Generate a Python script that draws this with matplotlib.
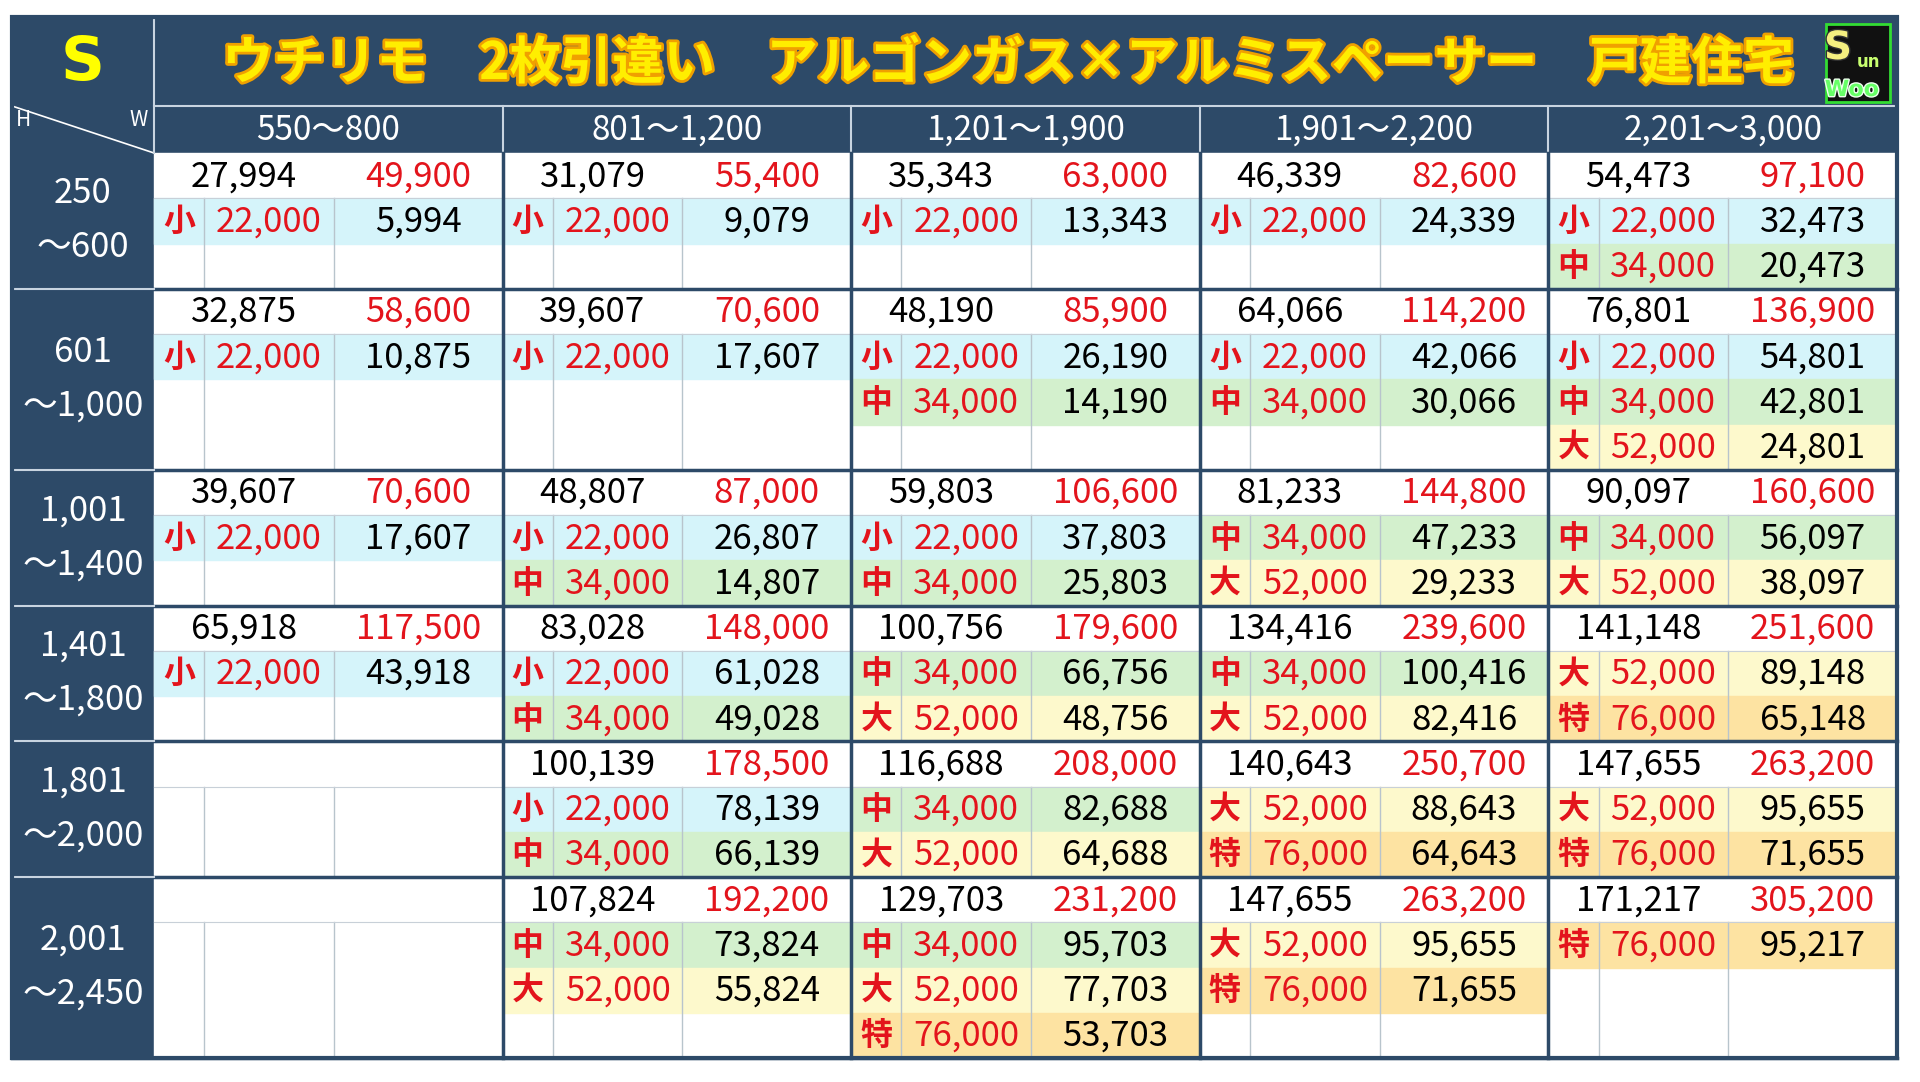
import matplotlib
matplotlib.use("Agg")
import matplotlib.pyplot as plt
import matplotlib.patheffects as pe
from matplotlib.patches import Rectangle

plt.rcParams['font.family'] = ['Noto Sans CJK JP', 'DejaVu Sans']

TITLE = "ウチリモ　2枚引違い　アルゴンガス×アルミスペーサー　戸建住宅"
W_LABELS = ["550～800", "801～1,200", "1,201～1,900", "1,901～2,200", "2,201～3,000"]
H_LABELS = [("250", "～600"), ("601", "～1,000"), ("1,001", "～1,400"),
            ("1,401", "～1,800"), ("1,801", "～2,000"), ("2,001", "～2,450")]
SUBROWS = [3, 4, 3, 3, 3, 4]
SIZE_PRICE = {"小": "22,000", "中": "34,000", "大": "52,000", "特": "76,000"}

# (base, price) per cell, None = empty
TOPS = [
    [("27,994", "49,900"), ("31,079", "55,400"), ("35,343", "63,000"), ("46,339", "82,600"), ("54,473", "97,100")],
    [("32,875", "58,600"), ("39,607", "70,600"), ("48,190", "85,900"), ("64,066", "114,200"), ("76,801", "136,900")],
    [("39,607", "70,600"), ("48,807", "87,000"), ("59,803", "106,600"), ("81,233", "144,800"), ("90,097", "160,600")],
    [("65,918", "117,500"), ("83,028", "148,000"), ("100,756", "179,600"), ("134,416", "239,600"), ("141,148", "251,600")],
    [None, ("100,139", "178,500"), ("116,688", "208,000"), ("140,643", "250,700"), ("147,655", "263,200")],
    [None, ("107,824", "192,200"), ("129,703", "231,200"), ("147,655", "263,200"), ("171,217", "305,200")],
]
# option rows: (size, remainder)
OPTS = [
    [[("小", "5,994")], [("小", "9,079")], [("小", "13,343")], [("小", "24,339")],
     [("小", "32,473"), ("中", "20,473")]],
    [[("小", "10,875")], [("小", "17,607")], [("小", "26,190"), ("中", "14,190")],
     [("小", "42,066"), ("中", "30,066")], [("小", "54,801"), ("中", "42,801"), ("大", "24,801")]],
    [[("小", "17,607")], [("小", "26,807"), ("中", "14,807")], [("小", "37,803"), ("中", "25,803")],
     [("中", "47,233"), ("大", "29,233")], [("中", "56,097"), ("大", "38,097")]],
    [[("小", "43,918")], [("小", "61,028"), ("中", "49,028")], [("中", "66,756"), ("大", "48,756")],
     [("中", "100,416"), ("大", "82,416")], [("大", "89,148"), ("特", "65,148")]],
    [[], [("小", "78,139"), ("中", "66,139")], [("中", "82,688"), ("大", "64,688")],
     [("大", "88,643"), ("特", "64,643")], [("大", "95,655"), ("特", "71,655")]],
    [[], [("中", "73,824"), ("大", "55,824")], [("中", "95,703"), ("大", "77,703"), ("特", "53,703")],
     [("大", "95,655"), ("特", "71,655")], [("特", "95,217")]],
]

NAVY = "#2d4a68"
RED = "#e3141c"
BG = {"小": "#d5f4fa", "中": "#d3f0cd", "大": "#fdf9cc", "特": "#fde3a2"}

X0, X1, Y0, Y1 = 12, 1897, 17, 1058
LAB_R, TITLE_B, HEAD_B = 154, 106, 153
CW = (X1 - LAB_R) / 5
SUB = [0, 0.144, 0.516, 1.0]
RH = (Y1 - HEAD_B) / sum(SUBROWS)
FS = 25

fig = plt.figure(figsize=(19.2, 10.82), dpi=100)
ax = fig.add_axes([0, 0, 1, 1])
ax.set_xlim(0, 1920); ax.set_ylim(1082, 0); ax.axis("off")

ax.add_patch(Rectangle((X0, Y0), X1 - X0, HEAD_B - Y0, color=NAVY))
ax.add_patch(Rectangle((X0, HEAD_B), LAB_R - X0, Y1 - HEAD_B, color=NAVY))
ax.add_patch(Rectangle((LAB_R, HEAD_B), X1 - LAB_R, Y1 - HEAD_B, color="white"))

ax.text((X0 + LAB_R) / 2, (Y0 + TITLE_B) / 2 + 2, "S", color="#ffff00", fontsize=44,
        fontweight="bold", ha="center", va="center", family="DejaVu Sans")
ax.text(1008, (Y0 + TITLE_B) / 2 + 2, TITLE, color="#ffee00", fontsize=37, fontweight="bold",
        ha="center", va="center",
        path_effects=[pe.withStroke(linewidth=4, foreground="#f0a000")])
# logo
ax.add_patch(Rectangle((1826, 24), 64, 78, facecolor="#111", edgecolor="#33dd33", lw=2))
ax.text(1838, 48, "S", color="#f5ef80", fontsize=28, fontweight="bold", ha="center", va="center",
        family="DejaVu Sans", path_effects=[pe.withStroke(linewidth=2, foreground="#333")])
ax.text(1868, 62, "un", color="#c8ff70", fontsize=12, fontweight="bold", ha="center", va="center",
        family="DejaVu Sans")
ax.text(1852, 90, "Woo", color="#66ff66", fontsize=16, fontweight="bold", ha="center", va="center",
        family="DejaVu Sans", path_effects=[pe.withStroke(linewidth=2, foreground="#eeffee")])

ax.plot([LAB_R, X1], [TITLE_B, TITLE_B], color="#c8d4e0", lw=1.5)
ax.plot([X0, LAB_R], [TITLE_B, HEAD_B], color="white", lw=1.2)
ax.plot([LAB_R, LAB_R], [Y0, HEAD_B], color="#c8d4e0", lw=1.5)
ax.text(X0 + 4, TITLE_B + 14, "H", color="white", fontsize=15, va="center")
ax.text(LAB_R - 6, TITLE_B + 14, "W", color="white", fontsize=15, va="center", ha="right")
for j, lab in enumerate(W_LABELS):
    ax.text(LAB_R + CW * (j + 0.5), (TITLE_B + HEAD_B) / 2 + 1, lab, color="white",
            fontsize=24, ha="center", va="center")
    if j:
        ax.plot([LAB_R + CW * j] * 2, [TITLE_B, HEAD_B], color="#c8d4e0", lw=1.5)

y = HEAD_B
for i, nsub in enumerate(SUBROWS):
    gh = nsub * RH
    ax.text((X0 + LAB_R) / 2, y + gh / 2 - 27, H_LABELS[i][0], color="white", fontsize=25,
            ha="center", va="center")
    ax.text((X0 + LAB_R) / 2, y + gh / 2 + 27, H_LABELS[i][1], color="white", fontsize=25,
            ha="center", va="center")
    for j in range(5):
        cx = LAB_R + CW * j
        sx = [cx + CW * s for s in SUB]
        for k, (size, rem) in enumerate(OPTS[i][j]):
            ry = y + RH * (k + 1)
            ax.add_patch(Rectangle((cx, ry), CW, RH, color=BG[size], zorder=1))
            yc = ry + RH / 2 + 1
            ax.text((sx[0] + sx[1]) / 2, yc, size, color=RED, fontsize=FS - 2, fontweight="bold",
                    ha="center", va="center", zorder=3)
            ax.text((sx[1] + sx[2]) / 2, yc, SIZE_PRICE[size], color=RED, fontsize=FS,
                    ha="center", va="center", zorder=3)
            ax.text((sx[2] + sx[3]) / 2, yc, rem, color="black", fontsize=FS,
                    ha="center", va="center", zorder=3)
        if TOPS[i][j]:
            base, price = TOPS[i][j]
            yc = y + RH / 2 + 1
            ax.text((sx[0] + sx[2]) / 2, yc, base, color="black", fontsize=FS,
                    ha="center", va="center", zorder=3)
            ax.text((sx[2] + sx[3]) / 2, yc, price, color=RED, fontsize=FS,
                    ha="center", va="center", zorder=3)
        for s in sx[1:3]:
            ax.plot([s, s], [y + RH, y + gh], color="#b8c4cc", lw=1, zorder=2)
        ax.plot([cx, cx + CW], [y + RH, y + RH], color="#c8d0d8", lw=0.8, zorder=2)
    y += gh
    ax.plot([X0, X1], [y, y], color=NAVY, lw=2.5, zorder=4)
    if i < 5:
        ax.plot([X0, LAB_R], [y, y], color="#c8d4e0", lw=1.5, zorder=4)

for j in range(1, 5):
    ax.plot([LAB_R + CW * j] * 2, [HEAD_B, Y1], color=NAVY, lw=2.5, zorder=4)
ax.add_patch(Rectangle((X0, Y0), X1 - X0, Y1 - Y0, fill=False, edgecolor=NAVY, lw=3, zorder=5))

fig.savefig("out.png", dpi=100, facecolor="white")
